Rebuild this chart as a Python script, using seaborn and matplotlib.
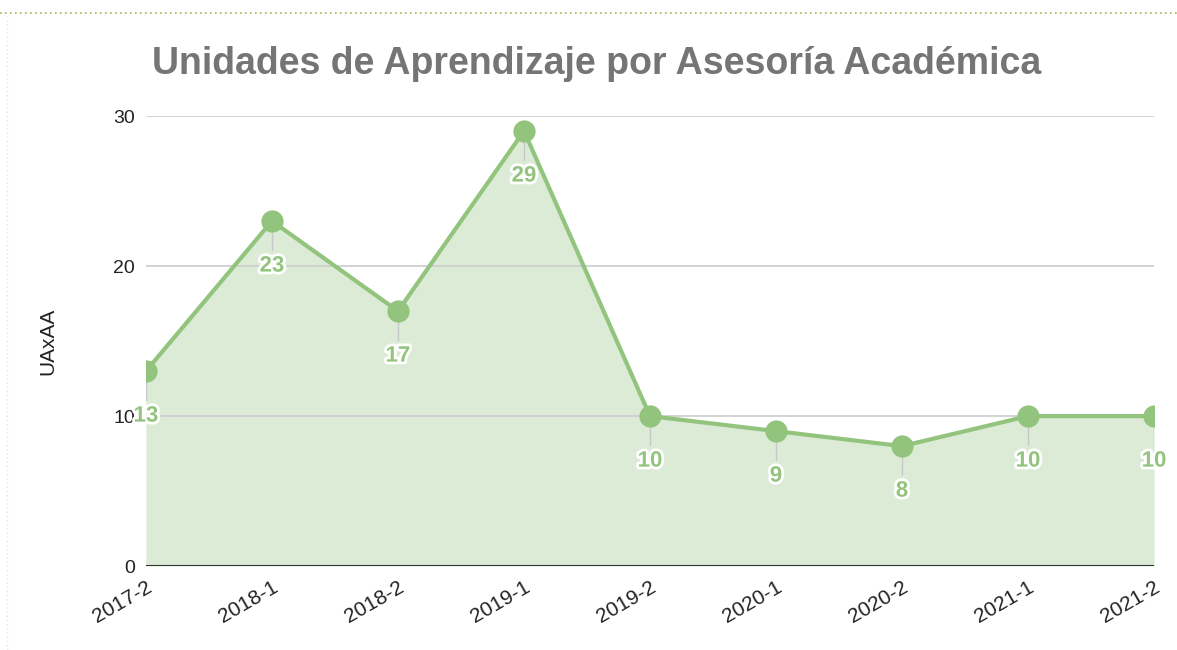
import matplotlib
matplotlib.use("Agg")
import matplotlib.pyplot as plt
import matplotlib.patheffects as pe
from matplotlib.lines import Line2D
import seaborn as sns
import pandas as pd

# data
periods = ["2017-2", "2018-1", "2018-2", "2019-1", "2019-2",
           "2020-1", "2020-2", "2021-1", "2021-2"]
uaxaa = [13, 23, 17, 29, 10, 9, 8, 10, 10]
y_ticks = [0, 10, 20, 30]

green = "#93c47d"
fill = "#dcebd6"

sns.set_theme(style="white")
plt.rcParams["font.family"] = ["Liberation Sans", "DejaVu Sans"]

df = pd.DataFrame({"periodo": periods, "valor": uaxaa})
df["x"] = range(len(df))

fig = plt.figure(figsize=(11.77, 6.5), dpi=100)
ax = fig.add_axes([0.124, 0.129, 0.8565, 0.6925])

ax.fill_between(df["x"], df["valor"], 0, color=fill, lw=0, zorder=1)
for y in y_ticks[1:]:
    ax.axhline(y, color="#cccccc", lw=1.2, zorder=1.5)
sns.lineplot(data=df, x="x", y="valor", ax=ax, color=green, lw=3,
             marker="o", markersize=16, markeredgewidth=0, zorder=3)
# clip the end markers at the plot edges
for ln in ax.lines:
    ln.set_clip_on(True)
    ln.set_clip_box(ax.bbox)
ax.axhline(0, color="#333333", lw=1.5, zorder=4)

# data labels below the points with a short leader line
for xi, v in zip(df["x"], df["valor"]):
    ax.plot([xi, xi], [v, v - 1.9], color="#c8c8c8", lw=1, zorder=2)
    ax.text(xi, v - 3.0, str(v), ha="center", va="center", fontsize=16,
            fontweight="bold", color=green, zorder=5, clip_on=False,
            path_effects=[pe.withStroke(linewidth=4, foreground="white")])

ax.set_xlim(0, len(df) - 1)
ax.set_ylim(0, 30)
ax.set_yticks(y_ticks)
ax.set_yticklabels([str(t) for t in y_ticks], fontsize=14, color="#222222")
ax.set_xticks(df["x"])
ax.set_xticklabels(periods, rotation=30, ha="right", rotation_mode="anchor",
                   fontsize=15, color="#222222")
ax.tick_params(axis="both", length=0, pad=8)
ax.set_xlabel("")
ax.set_ylabel("UAxAA", fontsize=15, color="#222222", labelpad=40)
sns.despine(ax=ax, left=True, bottom=True, top=True, right=True)

fig.text(0.507, 0.902, "Unidades de Aprendizaje por Asesoría Académica",
         ha="center", va="center", fontsize=27, fontweight="bold",
         color="#757575")

fig.lines.append(Line2D([0, 1], [0.98, 0.98], transform=fig.transFigure,
                        color="#9bbb59", lw=1.2, linestyle=(0, (1, 2))))
fig.lines.append(Line2D([0.006, 0.006], [0, 0.975], transform=fig.transFigure,
                        color="#e4e4e4", lw=1, linestyle=(0, (1, 2))))

fig.savefig("out.png", dpi=100)
